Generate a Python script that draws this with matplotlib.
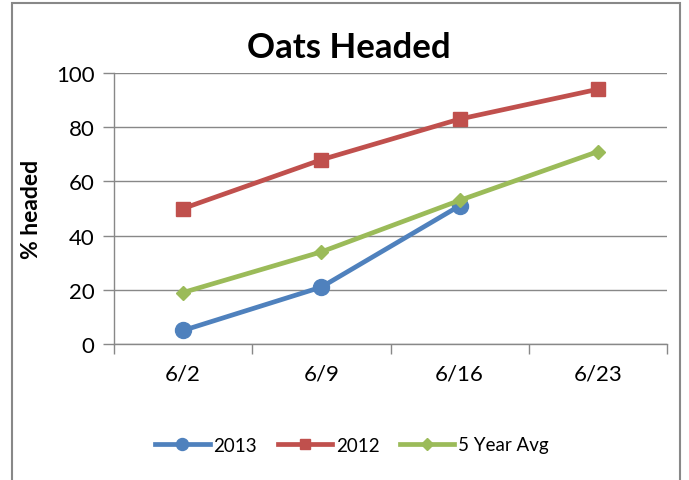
import matplotlib
matplotlib.use("Agg")
import matplotlib.pyplot as plt
from matplotlib.patches import Rectangle

categories = ["6/2", "6/9", "6/16", "6/23"]
s2013 = [5, 21, 51]
s2012 = [50, 68, 83, 94]
s5yr = [19, 34, 53, 71]
yticks = [0, 20, 40, 60, 80, 100]

plt.rcParams['font.family'] = ['Lato', 'DejaVu Sans']

fig = plt.figure(figsize=(6.89, 4.81), dpi=100)
W, H = 689, 481
ax = fig.add_axes([114 / W, 1 - 345 / H, (667 - 114) / W, (345 - 74) / H])

x = list(range(len(categories)))
ax.plot(x[:len(s2013)], s2013, color="#4F81BD", lw=3.4, marker="o", ms=11.5, label="2013", zorder=3)
ax.plot(x, s2012, color="#C0504D", lw=3.4, marker="s", ms=10, label="2012", zorder=3)
ax.plot(x, s5yr, color="#9BBB59", lw=3.4, marker="D", ms=7.5, label="5 Year Avg", zorder=3)

ax.set_xlim(-0.5, 3.5)
ax.set_ylim(0, 100)
ax.set_yticks(yticks)
ax.set_yticklabels([str(v) for v in yticks], fontsize=16)
ax.set_xticks(x)
ax.set_xticklabels(categories, fontsize=16)
ax.tick_params(axis='x', length=0, pad=14)
ax.set_xticks([-0.5, 0.5, 1.5, 2.5, 3.5], minor=True)
ax.tick_params(axis='x', which='minor', length=7, color="#888888", width=1)
ax.tick_params(axis='y', length=8, color="#888888", width=1, pad=6)

ax.grid(axis='y', color="#888888", lw=1)
ax.set_axisbelow(True)
for s in ["top", "right"]:
    ax.spines[s].set_visible(False)
for s in ["left", "bottom"]:
    ax.spines[s].set_color("#888888")
    ax.spines[s].set_linewidth(1)

ax.set_ylabel("% headed", fontsize=16.5, fontweight="bold", labelpad=10)
fig.text(349 / W, 1 - 48 / H, "Oats Headed", fontsize=25, fontweight="bold",
         ha="center", va="center")

leg = fig.legend(loc="center", bbox_to_anchor=(352 / W, 1 - 446 / H), ncol=3, frameon=False,
                 fontsize=13.5, handlelength=2.9, columnspacing=1.1, handletextpad=0.2,
                 markerscale=0.75)

fig.add_artist(Rectangle((12 / W, -0.02), (680 - 12) / W, 1 - 4 / H + 0.02,
                         transform=fig.transFigure, fill=False, edgecolor="#888888", lw=1.5,
                         clip_on=False))

fig.savefig("out.png", dpi=100)
